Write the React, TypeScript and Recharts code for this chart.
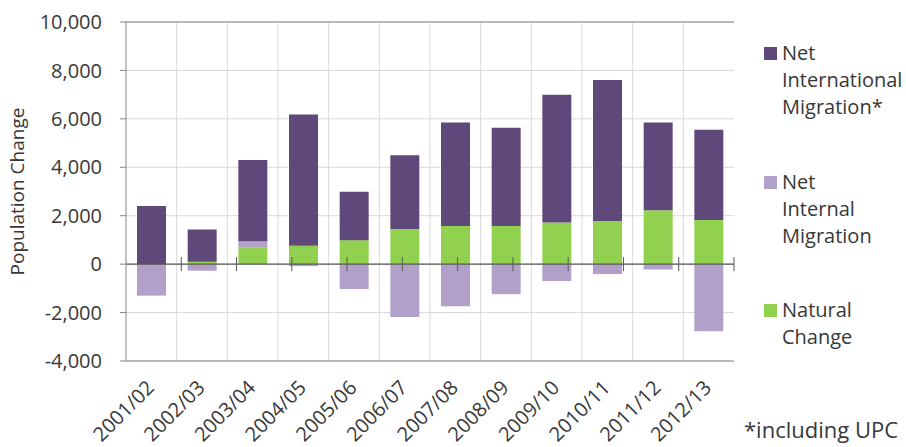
import React from "react";
import {
  BarChart,
  Bar,
  XAxis,
  YAxis,
  CartesianGrid,
  ReferenceLine,
} from "recharts";

const years = [
  "2001/02", "2002/03", "2003/04", "2004/05", "2005/06", "2006/07",
  "2007/08", "2008/09", "2009/10", "2010/11", "2011/12", "2012/13",
];
const naturalChange = [0, 100, 680, 760, 990, 1450, 1580, 1580, 1720, 1780, 2230, 1820];
const internalMigration = [-1300, -270, 270, -80, -1030, -2180, -1740, -1240, -700, -410, -220, -2770];
const internationalMigration = [2400, 1330, 3350, 5420, 2000, 3050, 4270, 4050, 5280, 5820, 3620, 3730];
const yTicks = [-4000, -2000, 0, 2000, 4000, 6000, 8000, 10000];

const data = years.map((year, i) => ({
  year,
  natural: naturalChange[i],
  internal: internalMigration[i],
  international: internationalMigration[i],
}));

const DARK = "#5f497a";
const LIGHT = "#b1a0c7";
const GREEN = "#92d050";
const TEXT = "#383838";
const FONT = "'Open Sans', sans-serif";

const legendItems = [
  { color: DARK, lines: ["Net", "International", "Migration*"], top: 39 },
  { color: LIGHT, lines: ["Net", "Internal", "Migration"], top: 168 },
  { color: GREEN, lines: ["Natural", "Change"], top: 296 },
];

const XTick = ({ x, y, payload }: any) => (
  <text
    x={x + 4}
    y={y + 28}
    transform={`rotate(-45, ${x + 4}, ${y + 28})`}
    textAnchor="end"
    fill={TEXT}
    fontSize={20}
    fontFamily={FONT}
  >
    {payload.value}
  </text>
);

const YLabel = ({ viewBox }: any) => {
  const cy = viewBox.y + viewBox.height / 2;
  return (
    <text
      x={24}
      y={cy}
      transform={`rotate(-90, 24, ${cy})`}
      textAnchor="middle"
      fill={TEXT}
      fontSize={19}
      fontFamily={FONT}
    >
      Population Change
    </text>
  );
};

export default function App() {
  return (
    <div style={{ position: "absolute", left: 0, top: 0, width: 906, height: 447, background: "#fff", overflow: "hidden" }}>
      <BarChart
        width={906}
        height={447}
        data={data}
        stackOffset="sign"
        barSize={29}
        margin={{ top: 22, right: 172, bottom: 56, left: 0 }}
      >
        <CartesianGrid
          stroke="#d9d9d9"
          verticalCoordinatesGenerator={({ offset }: any) =>
            years.map((_, i) => offset.left + ((i + 1) * offset.width) / years.length).slice(0, -1)
          }
        />
        <XAxis
          dataKey="year"
          height={30}
          tickLine={false}
          tickSize={0}
          tickMargin={0}
          axisLine={{ stroke: "#868686" }}
          tick={<XTick />}
          interval={0}
        />
        <XAxis xAxisId="b" type="number" domain={[0, 12]} allowDataOverflow hide />
        <YAxis
          width={126}
          domain={[-4000, 10000]}
          ticks={yTicks}
          interval={0}
          tickFormatter={(v: number) => v.toLocaleString("en-US")}
          tick={{ fill: TEXT, fontSize: 20, fontFamily: FONT }}
          tickSize={6}
          tickMargin={18}
          tickLine={{ stroke: "#868686" }}
          axisLine={{ stroke: "#868686" }}
          label={<YLabel />}
        />
        <Bar dataKey="natural" stackId="a" fill={GREEN} isAnimationActive={false} />
        <Bar dataKey="internal" stackId="a" fill={LIGHT} isAnimationActive={false} />
        <Bar dataKey="international" stackId="a" fill={DARK} isAnimationActive={false} />
        <ReferenceLine y={0} stroke="#595959" strokeWidth={1.2} />
        <ReferenceLine y={10000} stroke="#868686" />
        <ReferenceLine xAxisId="b" x={12} stroke="#868686" />
        {years.slice(0, -1).map((_, i) => (
          <ReferenceLine
            key={i}
            xAxisId="b"
            segment={[
              { x: i + 1, y: -290 },
              { x: i + 1, y: 290 },
            ]}
            stroke="#595959"
          />
        ))}
      </BarChart>
      {legendItems.map((item) => (
        <div
          key={item.color}
          style={{
            position: "absolute",
            left: 782,
            top: item.top,
            fontFamily: FONT,
            fontSize: 20,
            lineHeight: "27px",
            color: TEXT,
            whiteSpace: "nowrap",
          }}
        >
          <span
            style={{
              position: "absolute",
              left: -18,
              top: 8,
              width: 13,
              height: 13,
              background: item.color,
            }}
          />
          {item.lines.map((l) => (
            <div key={l}>{l}</div>
          ))}
        </div>
      ))}
      <div
        style={{
          position: "absolute",
          left: 744,
          top: 416,
          fontFamily: FONT,
          fontSize: 22,
          lineHeight: "27px",
          color: TEXT,
          whiteSpace: "nowrap",
        }}
      >
        *including UPC
      </div>
    </div>
  );
}
